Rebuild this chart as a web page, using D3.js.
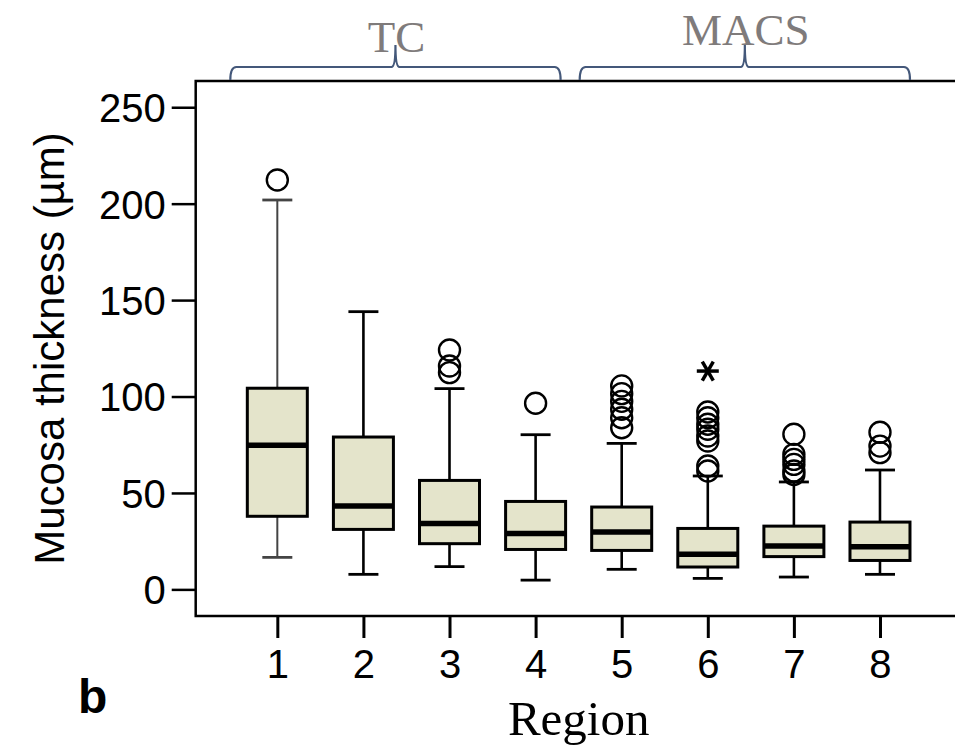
<!DOCTYPE html>
<html>
<head>
<meta charset="utf-8">
<script src="https://cdn.jsdelivr.net/npm/d3@7"></script>
<style>
  html, body { margin: 0; padding: 0; background: #ffffff; }
  svg { display: block; }
</style>
</head>
<body>
<svg id="chart" width="955" height="748"></svg>
<script>
// ---- data ----
const regions = [1, 2, 3, 4, 5, 6, 7, 8];
const whiskerLow  = [16.6, 7.8, 11.8, 4.8, 10.4, 5.7, 6.4, 7.8];
const q1          = [37.9, 31.1, 23.7, 20.7, 20.2, 11.6, 17.0, 15.0];
const medians     = [74.7, 43.2, 34.1, 29.0, 29.7, 18.2, 22.5, 22.1];
const q3          = [104.3, 79.0, 56.5, 45.6, 42.7, 31.6, 32.8, 34.9];
const whiskerHigh = [201.9, 144.0, 104.1, 80.2, 75.7, 58.8, 55.7, 61.9];
const outliers = [
  [212.3],
  [],
  [124.1, 115.8, 112.4],
  [96.5],
  [105.5, 101.5, 97.5, 93.4, 89.0, 83.8],
  [92.0, 89.0, 85.6, 83.0, 79.5, 76.9, 64.0, 61.4],
  [80.4, 70.0, 67.4, 64.8, 61.4, 59.6],
  [81.5, 74.3, 70.9]
];
const extremes = [[], [], [], [], [], [113.2], [], []];
const yTicks = [0, 50, 100, 150, 200, 250];
const groups = [
  { label: "TC",   from: 1, to: 4 },
  { label: "MACS", from: 5, to: 8 }
];
const yTitle = "Mucosa thickness (\u00B5m)";
const xTitle = "Region";
const panelLabel = "b";

// ---- layout ----
const svg = d3.select("#chart");
const plotLeft = 195.7, plotRight = 961.6, plotTop = 81, plotBottom = 616;

const x = d3.scalePoint().domain(regions).range([plotLeft, plotRight]).padding(0.948);
const y = d3.scaleLinear().domain([-13.8, 263.6]).range([plotBottom, plotTop]);

const boxW = 60, capW = 30;

// frame
svg.append("rect")
  .attr("x", plotLeft).attr("y", plotTop)
  .attr("width", plotRight - plotLeft).attr("height", plotBottom - plotTop)
  .attr("fill", "none").attr("stroke", "#000").attr("stroke-width", 2.5);

// y axis
const yAxis = d3.axisLeft(y).tickValues(yTicks).tickSize(24).tickPadding(6).tickFormat(d3.format("d"));
const gy = svg.append("g").attr("transform", `translate(${plotLeft},0)`).call(yAxis);
gy.select(".domain").remove();
gy.selectAll(".tick line").attr("stroke", "#000").attr("stroke-width", 2.5);
gy.selectAll(".tick text")
  .attr("font-family", "Liberation Sans, Arial, sans-serif")
  .attr("font-size", 40).attr("fill", "#000").attr("dy", "0.36em");

// x axis
const xAxis = d3.axisBottom(x).tickSize(22).tickPadding(12);
const gx = svg.append("g").attr("transform", `translate(0,${plotBottom})`).call(xAxis);
gx.select(".domain").remove();
gx.selectAll(".tick line").attr("stroke", "#000").attr("stroke-width", 3);
gx.selectAll(".tick text")
  .attr("font-family", "Liberation Sans, Arial, sans-serif")
  .attr("font-size", 40).attr("fill", "#000");

// boxes
const data = regions.map((r, i) => ({
  r, lo: whiskerLow[i], q1: q1[i], med: medians[i], q3: q3[i], hi: whiskerHigh[i],
  out: outliers[i], ext: extremes[i]
}));

const g = svg.append("g");
data.forEach((d, i) => {
  const cx = x(d.r);
  const wColor = i === 0 ? "#444" : "#000";
  const wWidth = i === 0 ? 2 : 2.6;
  g.append("line").attr("x1", cx).attr("x2", cx).attr("y1", y(d.q3)).attr("y2", y(d.hi))
    .attr("stroke", wColor).attr("stroke-width", wWidth);
  g.append("line").attr("x1", cx).attr("x2", cx).attr("y1", y(d.q1)).attr("y2", y(d.lo))
    .attr("stroke", wColor).attr("stroke-width", wWidth);
  g.append("line").attr("x1", cx - capW / 2).attr("x2", cx + capW / 2).attr("y1", y(d.hi)).attr("y2", y(d.hi))
    .attr("stroke", wColor).attr("stroke-width", 2.8);
  g.append("line").attr("x1", cx - capW / 2).attr("x2", cx + capW / 2).attr("y1", y(d.lo)).attr("y2", y(d.lo))
    .attr("stroke", wColor).attr("stroke-width", 2.8);
  g.append("rect").attr("x", cx - boxW / 2).attr("y", y(d.q3))
    .attr("width", boxW).attr("height", y(d.q1) - y(d.q3))
    .attr("fill", "#e4e4cb").attr("stroke", "#000").attr("stroke-width", 3);
  g.append("line").attr("x1", cx - boxW / 2).attr("x2", cx + boxW / 2)
    .attr("y1", y(d.med)).attr("y2", y(d.med))
    .attr("stroke", "#000").attr("stroke-width", 5.5);
  d.out.forEach(v => {
    g.append("circle").attr("cx", cx).attr("cy", y(v)).attr("r", 10.5)
      .attr("fill", "none").attr("stroke", "#000").attr("stroke-width", 2.4);
  });
  d.ext.forEach(v => {
    const cy = y(v), s = 11;
    const star = g.append("g").attr("transform", `translate(${cx},${cy})`);
    [0, 60, 120].forEach(a => {
      const rad = a * Math.PI / 180;
      star.append("line")
        .attr("x1", -s * Math.cos(rad)).attr("y1", -s * Math.sin(rad))
        .attr("x2", s * Math.cos(rad)).attr("y2", s * Math.sin(rad))
        .attr("stroke", "#000").attr("stroke-width", 3.5);
    });
  });
});

// group brackets
const brY = 67, brEnd = 80, brTip = 45;
groups.forEach((gr, k) => {
  const x0 = x(gr.from) - (k === 0 ? 47 : 42);
  const x1 = x(gr.to) + (k === 0 ? 25 : 30);
  const cx = (x0 + x1) / 2;
  const p = d3.path();
  p.moveTo(x0, brEnd);
  p.quadraticCurveTo(x0, brY, x0 + 6, brY);
  p.lineTo(cx - 4, brY);
  p.quadraticCurveTo(cx, brY, cx, brTip);
  p.quadraticCurveTo(cx, brY, cx + 4, brY);
  p.lineTo(x1 - 6, brY);
  p.quadraticCurveTo(x1, brY, x1, brEnd);
  svg.append("path").attr("d", p.toString())
    .attr("fill", "none").attr("stroke", "#44587a").attr("stroke-width", 2.2);
  svg.append("text").attr("x", cx + 1).attr("y", k === 0 ? 52 : 45)
    .attr("text-anchor", "middle")
    .attr("font-family", "Liberation Serif, Times New Roman, serif")
    .attr("font-size", 45).attr("fill", "#7f7b7b")
    .text(gr.label);
});

// titles
svg.append("text")
  .attr("transform", `translate(64,${(plotTop + plotBottom) / 2}) rotate(-90)`)
  .attr("text-anchor", "middle")
  .attr("font-family", "Liberation Sans, Arial, sans-serif")
  .attr("font-size", 42).attr("fill", "#000")
  .text(yTitle);

svg.append("text")
  .attr("x", (plotLeft + plotRight) / 2).attr("y", 735)
  .attr("text-anchor", "middle")
  .attr("font-family", "Liberation Serif, Times New Roman, serif")
  .attr("font-size", 49).attr("fill", "#000")
  .text(xTitle);

svg.append("text")
  .attr("x", 78).attr("y", 713)
  .attr("font-family", "Liberation Sans, Arial, sans-serif")
  .attr("font-weight", "bold")
  .attr("font-size", 48).attr("fill", "#000")
  .text(panelLabel);
</script>
</body>
</html>
